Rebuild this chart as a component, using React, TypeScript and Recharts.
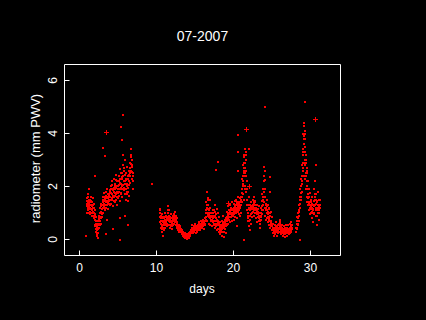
import React from "react";
import { ScatterChart, Scatter, XAxis, YAxis } from "recharts";

// radiometer readings: two interleaved sets, each one every 0.05 day,
// in four stretches of the month ("B" readings sit half a step later)
const SAMPLE_STEP = 0.05;

const run1Start = 0.9;
const run1Pwv = [
  0.15, 1.25, 1.55, 1.1, 1.4, 1.7, 1.0, 1.35, 1.5, 0.95, 1.3, 1.6,
  1.15, 1.45, 0.9, 1.25, 1.55, 1.05, 1.3, 0.85, 1.2, 0.95,
  0.75, 0.5, 0.85, 0.3, 0.6, 0.15, 0.45, 0.7, 0.25, 0.55,
  0.8, 0.45, 1.0, 0.7, 1.2, 0.6, 1.05, 1.35, 0.85, 1.15,
  1.4, 1.0, 1.6, 1.25, 1.75, 1.1, 1.5, 1.3, 1.8, 1.45,
  1.2, 1.6, 1.9, 1.35, 1.55, 1.15, 1.7, 1.45, 1.85, 1.3,
  1.6, 2.0, 1.35, 1.75, 2.2, 1.5, 1.9, 1.25, 1.65, 2.3,
  1.8, 1.4, 2.1, 1.65, 2.45, 1.5, 1.95, 1.3, 2.2, 1.75,
  2.0, 1.55, 2.4, 1.8, 2.65, 1.45, 2.15, 1.9, 2.5, 1.7,
  2.3, 1.6, 2.8, 2.05, 3.2, 1.85, 2.6, 2.2, 3.0, 1.7,
  2.1, 1.5, 2.5, 1.8, 2.75, 1.45, 2.3, 1.95, 2.6, 1.65,
  2.4, 2.9, 2.15, 3.2, 2.6, 3.4, 2.3, 3.0, 2.5, 1.9,
];
const run1PwvB = [
  1.35, 1.0, 1.45, 1.2, 1.6, 1.15, 1.5, 1.25, 1.05, 1.4, 1.2, 1.45,
  1.3, 1.0, 1.4, 1.1, 1.2, 0.9, 1.35, 1.0, 0.8, 1.1,
  0.55, 0.9, 0.4, 0.7, 0.2, 0.5, 0.35, 0.6, 0.4, 0.75,
  0.6, 0.9, 0.55, 0.85, 1.0, 0.8, 1.25, 0.95, 1.3, 1.0,
  1.2, 1.5, 1.3, 1.45, 1.35, 1.6, 1.2, 1.55, 1.4, 1.65,
  1.45, 1.3, 1.55, 1.7, 1.4, 1.65, 1.5, 1.35, 1.6, 1.75,
  1.8, 1.5, 1.9, 1.55, 1.7, 2.05, 1.6, 1.85, 1.45, 1.95,
  1.6, 1.9, 1.75, 2.0, 1.7, 2.25, 1.8, 2.0, 1.6, 1.9,
  1.8, 2.2, 1.65, 2.05, 1.9, 2.3, 1.75, 2.1, 1.95, 2.35,
  2.0, 2.5, 1.9, 2.4, 2.2, 2.7, 1.95, 2.45, 2.1, 2.3,
  1.9, 2.25, 1.7, 2.1, 2.0, 2.4, 1.8, 2.2, 2.05, 2.45,
  2.7, 2.5, 2.85, 2.6, 3.1, 2.8, 2.55, 2.75, 2.2, 2.4,
];

const run2Start = 10.4;
const run2Pwv = [
  1.0, 0.65, 1.15, 0.8, 0.45, 0.95, 0.3, 0.7, 0.15, 0.55,
  0.85, 0.35, 0.6, 1.0, 0.45, 0.75, 0.55, 0.9, 0.5, 0.8,
  0.6, 1.0, 1.25, 0.75, 1.1, 0.55, 0.85, 0.45, 0.7, 0.95,
  0.5, 0.8, 0.4, 0.65, 0.9, 0.55, 0.75, 0.6, 0.95, 0.7,
  1.05, 0.65, 0.9, 0.55, 0.8, 0.45, 0.6, 0.35, 0.5, 0.4,
  0.55, 0.3, 0.45, 0.35, 0.5, 0.3, 0.4, 0.25, 0.35, 0.2,
  0.3, 0.15, 0.25, 0.1, 0.2, 0.05, 0.15, 0.25, 0.08, 0.18,
  0.05, 0.12, 0.03, 0.2, 0.1, 0.15, 0.06, 0.25, 0.12, 0.3,
  0.2, 0.35, 0.25, 0.45, 0.3, 0.55, 0.35, 0.4, 0.25, 0.5,
  0.3, 0.45, 0.35, 0.6, 0.25, 0.4, 0.5, 0.3, 0.45, 0.35,
  0.55, 0.4, 0.65, 0.45, 0.5, 0.35, 0.6, 0.7, 0.45, 0.55,
  0.65, 0.45, 0.6, 0.75, 0.5, 0.7, 0.4, 0.6, 0.8, 0.55,
  1.0, 1.4, 0.7, 1.8, 1.2, 1.55, 0.9, 1.3, 0.6, 1.1,
  0.8, 1.5, 0.55, 1.0, 0.7, 0.9, 0.5, 0.85, 0.65, 1.1,
];
const run2PwvB = [
  0.85, 1.1, 0.6, 0.9, 0.7, 0.5, 0.8, 0.4, 0.65, 0.45,
  0.7, 0.55, 0.8, 0.65, 0.85, 0.6, 0.7, 0.65, 0.75, 0.6,
  0.85, 0.75, 1.1, 0.9, 0.8, 0.7, 0.65, 0.75, 0.55, 0.8,
  0.65, 0.6, 0.7, 0.5, 0.75, 0.7, 0.6, 0.8, 0.75, 0.85,
  0.9, 0.8, 0.7, 0.75, 0.6, 0.65, 0.5, 0.45, 0.4, 0.5,
  0.4, 0.45, 0.35, 0.4, 0.35, 0.4, 0.3, 0.35, 0.25, 0.3,
  0.2, 0.25, 0.15, 0.2, 0.12, 0.18, 0.1, 0.15, 0.2, 0.1,
  0.15, 0.08, 0.18, 0.1, 0.2, 0.08, 0.15, 0.18, 0.22, 0.2,
  0.3, 0.25, 0.35, 0.3, 0.4, 0.45, 0.3, 0.35, 0.45, 0.4,
  0.4, 0.35, 0.5, 0.45, 0.35, 0.5, 0.4, 0.45, 0.35, 0.5,
  0.45, 0.5, 0.55, 0.6, 0.4, 0.5, 0.45, 0.55, 0.6, 0.5,
  0.55, 0.6, 0.5, 0.65, 0.6, 0.55, 0.65, 0.7, 0.6, 0.75,
  0.85, 1.1, 1.3, 1.0, 1.5, 0.95, 1.15, 1.0, 0.85, 0.95,
  1.2, 0.9, 0.75, 0.85, 0.9, 0.75, 0.7, 1.0, 0.8, 0.9,
];

const run3Start = 17.4;
const run3Pwv = [
  0.9, 0.55, 1.1, 0.7, 0.45, 1.3, 0.6, 0.95, 0.35, 1.15,
  0.75, 0.4, 1.0, 0.55, 0.3, 0.85, 0.45, 0.65, 0.2, 0.5,
  0.35, 0.7, 0.15, 0.55, 0.9, 0.3, 0.6, 0.1, 0.45, 0.75,
  0.4, 0.65, 0.25, 0.8, 0.55, 1.05, 0.7, 1.25, 0.6, 0.9,
  1.1, 0.75, 1.3, 0.95, 0.65, 1.2, 0.85, 1.4, 1.0, 0.7,
  1.15, 0.9, 1.35, 0.75, 1.05, 1.45, 0.85, 1.25, 1.0, 1.5,
  1.2, 0.8, 1.4, 1.05, 1.6, 0.95, 1.3, 1.1, 1.55, 0.9,
  1.25, 1.6, 1.0, 1.9, 1.4, 2.3, 1.7, 2.8, 1.5, 2.5,
  3.1, 2.0, 3.4, 2.6, 1.8, 3.0, 2.2, 1.5, 1.1, 0.7,
  1.3, 0.5, 0.9, 1.6, 0.35, 1.1, 0.75, 1.4, 0.6, 1.0,
  1.25, 0.85, 1.5, 1.05, 1.35, 0.9, 1.6, 1.2, 1.0, 1.45,
  1.1, 0.8, 1.3, 0.95, 0.65, 1.15, 0.85, 1.25, 0.7, 1.0,
  0.6, 0.9, 0.45, 1.2, 0.75, 1.45, 0.95, 1.7, 1.1, 1.9,
  1.4, 2.2, 1.6, 2.6, 1.2, 0.9, 1.35, 0.75, 1.5, 1.1,
  0.8, 1.3, 0.65, 1.0, 1.2, 0.55, 0.9, 1.8, 0.45, 1.05,
  0.7, 0.35, 0.85, 0.5, 0.25, 0.6, 0.15, 0.45, 0.3, 0.55,
  0.2, 0.4, 0.65, 0.3, 0.5, 0.15, 0.35, 0.55, 0.25, 0.45,
  0.6, 0.3, 0.75, 0.45, 0.65, 0.2, 0.5, 0.35, 0.55, 0.25,
  0.4, 0.15, 0.35, 0.5, 0.2, 0.45, 0.1, 0.3, 0.55, 0.25,
  0.35, 0.15, 0.45, 0.25, 0.55, 0.2, 0.4, 0.3, 0.6, 0.25,
  0.45, 0.3, 0.65, 0.4, 0.55,
];
const run3PwvB = [
  0.7, 0.85, 0.6, 0.9, 1.05, 0.8, 0.7, 0.5, 0.75, 0.6,
  0.55, 0.65, 0.7, 0.4, 0.6, 0.55, 0.35, 0.5, 0.4, 0.3,
  0.55, 0.45, 0.4, 0.65, 0.5, 0.45, 0.3, 0.55, 0.6, 0.5,
  0.55, 0.5, 0.6, 0.7, 0.75, 0.85, 0.95, 0.8, 1.0, 0.85,
  0.95, 1.0, 1.05, 0.85, 0.95, 1.0, 1.1, 0.9, 1.15, 0.95,
  1.0, 1.1, 1.05, 1.2, 0.95, 1.1, 1.2, 1.05, 1.3, 1.15,
  1.35, 1.1, 1.2, 1.3, 1.25, 1.35, 1.15, 1.4, 1.2, 1.25,
  1.4, 1.3, 1.5, 1.6, 1.75, 2.0, 2.2, 2.4, 2.6, 2.9,
  2.7, 2.9, 2.5, 3.2, 2.4, 2.6, 1.9, 1.3, 0.9, 1.0,
  0.8, 1.15, 1.2, 0.7, 1.3, 0.9, 1.2, 0.95, 1.25, 1.15,
  1.0, 1.2, 1.3, 1.25, 1.1, 1.4, 1.3, 1.4, 1.3, 1.2,
  1.0, 1.15, 1.05, 1.1, 0.85, 0.95, 1.05, 0.9, 0.85, 0.8,
  0.75, 0.7, 0.85, 0.9, 1.0, 1.1, 1.25, 1.3, 1.5, 1.6,
  1.8, 1.9, 2.4, 1.9, 1.6, 1.3, 1.1, 1.2, 1.0, 1.25,
  1.05, 0.95, 0.85, 1.15, 0.8, 0.75, 0.7, 1.0, 0.65, 0.6,
  0.5, 0.55, 0.6, 0.35, 0.45, 0.4, 0.35, 0.3, 0.4, 0.35,
  0.35, 0.3, 0.45, 0.5, 0.35, 0.3, 0.45, 0.4, 0.35, 0.3,
  0.4, 0.5, 0.55, 0.6, 0.4, 0.35, 0.3, 0.45, 0.4, 0.35,
  0.25, 0.3, 0.2, 0.35, 0.3, 0.25, 0.2, 0.4, 0.35, 0.3,
  0.25, 0.3, 0.35, 0.4, 0.35, 0.3, 0.35, 0.45, 0.4, 0.35,
  0.35, 0.45, 0.5, 0.45, 0.4,
];

const run4Start = 28.15;
const run4Pwv = [
  0.3, 0.6, 0.45, 0.85, 0.55, 1.0, 0.7, 1.3, 0.9, 1.6,
  1.2, 1.9, 1.5, 2.3, 1.8, 2.8, 2.2, 3.3, 2.6, 3.9,
  4.4, 3.6, 4.1, 3.0, 3.5, 2.5, 3.2, 2.0, 2.7, 1.6,
  2.2, 1.3, 1.9, 1.1, 1.6, 0.95, 1.75, 1.25, 1.5, 1.0,
  1.35, 0.8, 1.6, 1.15, 0.65, 1.45, 1.0, 1.9, 1.3, 2.2,
  1.5, 0.9, 1.7, 1.2, 0.55, 1.4, 1.0, 1.8, 1.25, 0.75,
  1.1, 1.5,
];
const run4PwvB = [
  0.45, 0.4, 0.7, 0.6, 0.8, 0.85, 1.05, 1.1, 1.2, 1.35,
  1.5, 1.6, 1.75, 2.0, 2.4, 2.1, 2.9, 2.7, 3.2, 3.6,
  3.9, 3.3, 2.8, 3.8, 3.0, 2.9, 2.4, 2.6, 2.2, 1.9,
  1.7, 1.55, 1.4, 1.35, 1.2, 1.3, 1.2, 1.4, 1.15, 1.25,
  1.05, 1.2, 1.0, 1.3, 1.1, 0.95, 1.25, 1.5, 1.7, 1.6,
  1.2, 1.35, 1.1, 1.45, 0.9, 1.2, 1.3, 1.1, 1.5, 1.0,
  1.3, 1.2,
];

// stray readings away from the main bands
const strayDays = [
  1.2, 2.04, 3.03, 3.29, 5.37, 5.63, 5.5, 3.6, 4.4, 5.3, 5.9, 6.3, 5.3, 3.5, 2.4, 9.44,
  17.76, 17.93, 20.58, 20.58, 20.58, 21.96, 21.3, 21.35, 21.45, 21.55, 21.6, 21.5, 21.25,
  21.4, 20.5, 24.07, 24.0, 24.1, 24.77, 29.0, 29.05, 29.1, 29.12, 29.2, 29.22, 29.28,
  29.3, 29.35, 29.4, 29.45, 29.5, 29.55, 29.6, 29.31, 30.74, 28.66,
];
const strayPwv = [
  1.9, 2.39, 3.46, 3.16, 4.25, 4.69, 3.75, 0.73, 0.4, 0.8, 0.9, 0.55, -0.02, 0.22, 0.05, 2.09,
  2.64, 2.92, 3.94, 3.31, 2.6, 3.41, 2.9, 3.2, 2.4, 2.7, 3.3, 1.9, 2.1,
  -0.02, 0.5, 5.0, 2.74, 2.24, 2.36, 4.0, 3.4, 4.3, 2.9, 3.8, 2.4, 3.0,
  4.0, 2.3, 1.9, 2.9, 2.0, 1.4, 2.5, 5.19, 2.8, -0.03,
];

// readings drawn with a plus sign
const plusDays = [3.47, 21.6, 21.96, 19.3, 30.6];
const plusPwv = [4.06, 4.16, 2.0, 1.36, 4.53];

const xTicks = [0, 10, 20, 30];
const yTicks = [0, 2, 4, 6];

const runs = [
  { start: run1Start, a: run1Pwv, b: run1PwvB },
  { start: run2Start, a: run2Pwv, b: run2PwvB },
  { start: run3Start, a: run3Pwv, b: run3PwvB },
  { start: run4Start, a: run4Pwv, b: run4PwvB },
];

const samples = runs.flatMap((r) => [
  ...r.a.map((v, i) => ({ day: +(r.start + i * SAMPLE_STEP).toFixed(3), pwv: v })),
  ...r.b.map((v, i) => ({ day: +(r.start + SAMPLE_STEP / 2 + i * SAMPLE_STEP).toFixed(3), pwv: v })),
]);
const strays = strayDays.map((d, i) => ({ day: d, pwv: strayPwv[i] }));
const pluses = plusDays.map((d, i) => ({ day: d, pwv: plusPwv[i] }));

const FONT = "'Liberation Sans', Arial, sans-serif";
const RED = "#ff0000";

const Dot = (props: any) => {
  const { cx, cy } = props;
  if (cx == null || cy == null) return null;
  return (
    <rect x={Math.round(cx) - 1} y={Math.round(cy) - 1} width={2} height={2} fill={RED} shapeRendering="crispEdges" />
  );
};

const Plus = (props: any) => {
  const { cx, cy } = props;
  if (cx == null || cy == null) return null;
  const x = Math.round(cx);
  const y = Math.round(cy);
  return (
    <g fill={RED} shapeRendering="crispEdges">
      <rect x={x - 2} y={y} width={5} height={1} />
      <rect x={x} y={y - 2} width={1} height={5} />
    </g>
  );
};

const XTick = (props: any) => {
  const { x, y, payload } = props;
  return (
    <text x={x} y={y} textAnchor="middle" fill="#fff" fontFamily={FONT} fontSize={12}>
      {payload.value}
    </text>
  );
};

const YTick = (props: any) => {
  const { x, y, payload } = props;
  return (
    <text x={x} y={y} transform={`rotate(-90 ${x} ${y})`} textAnchor="middle" fill="#fff" fontFamily={FONT} fontSize={12}>
      {payload.value}
    </text>
  );
};

const X_DOMAIN: [number, number] = [-1.948, 33.896];
const Y_DOMAIN: [number, number] = [-0.6038, 6.6038];

export default function App() {
  return (
    <div style={{ position: "fixed", left: 0, top: 0, width: 426, height: 320, background: "#000" }}>
      <ScatterChart
        width={426}
        height={320}
        margin={{ top: 63.5, right: 84.5, bottom: 63.5, left: 63.5 }}
        style={{ position: "absolute", left: 0, top: 0 }}
      >
        <XAxis
          xAxisId="b"
          type="number"
          dataKey="day"
          domain={X_DOMAIN}
          ticks={xTicks}
          allowDataOverflow
          height={1}
          stroke="#fff"
          tickSize={-5}
          tickMargin={21}
          tick={<XTick />}
        />
        <XAxis
          xAxisId="t"
          orientation="top"
          type="number"
          domain={X_DOMAIN}
          ticks={xTicks}
          allowDataOverflow
          height={1}
          stroke="#fff"
          tickSize={-5}
          tick={false}
        />
        <YAxis
          yAxisId="l"
          type="number"
          dataKey="pwv"
          domain={Y_DOMAIN}
          ticks={yTicks}
          allowDataOverflow
          width={1}
          stroke="#fff"
          tickSize={-5}
          tickMargin={12.5}
          tick={<YTick />}
        />
        <YAxis
          yAxisId="r"
          orientation="right"
          type="number"
          domain={Y_DOMAIN}
          ticks={yTicks}
          allowDataOverflow
          width={1}
          stroke="#fff"
          tickSize={-5}
          tick={false}
        />
        <Scatter xAxisId="b" yAxisId="l" data={samples} shape={<Dot />} isAnimationActive={false} />
        <Scatter xAxisId="b" yAxisId="l" data={strays} shape={<Dot />} isAnimationActive={false} />
        <Scatter xAxisId="b" yAxisId="l" data={pluses} shape={<Plus />} isAnimationActive={false} />
      </ScatterChart>
      <svg width={426} height={320} style={{ position: "absolute", left: 0, top: 0, pointerEvents: "none" }}>
        <text x={202.5} y={41} textAnchor="middle" fill="#fff" fontFamily={FONT} fontSize={14}>
          07-2007
        </text>
        <text x={202} y={292.5} textAnchor="middle" fill="#fff" fontFamily={FONT} fontSize={12}>
          days
        </text>
        <text
          x={40}
          y={158.5}
          transform="rotate(-90 40 158.5)"
          textAnchor="middle"
          fill="#fff"
          fontFamily={FONT}
          fontSize={13}
        >
          radiometer (mm PWV)
        </text>
      </svg>
    </div>
  );
}
